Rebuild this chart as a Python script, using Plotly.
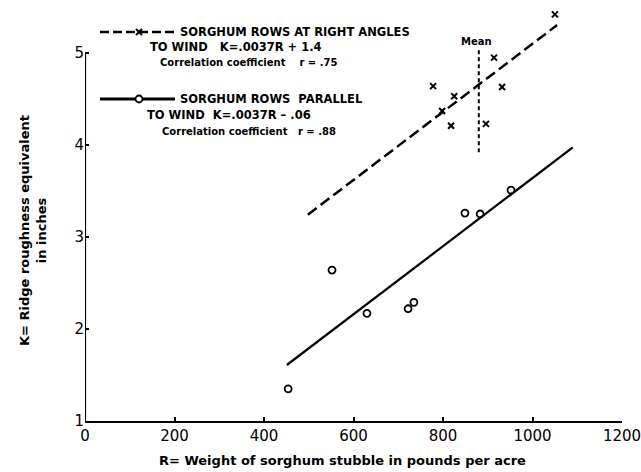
import plotly.graph_objects as go

# ---------------- data ----------------
# Sorghum rows at right angles to wind  (x markers)
R_right = [778, 798, 818, 825, 896, 914, 932, 1050]
K_right = [4.64, 4.37, 4.21, 4.53, 4.23, 4.95, 4.63, 5.42]

# Sorghum rows parallel to wind  (open circles)
R_par = [454, 552, 630, 722, 735, 849, 883, 952]
K_par = [1.35, 2.64, 2.17, 2.22, 2.29, 3.26, 3.25, 3.51]

# Regression lines  K = slope * R + intercept
slope = 0.0037
intercept_right = 1.4
intercept_par = -0.06
fit_right_R = [498, 1055]
fit_par_R = [451, 1090]

# Mean marker (vertical dotted line)
mean_R = [880, 880]
mean_K = [3.92, 5.03]

x_ticks = [0, 200, 400, 600, 800, 1000, 1200]
y_ticks = [1, 2, 3, 4, 5]
x_range = [0, 1200]
y_range = [1, 5.5]
y_axis_top = 5

legend_right = ["SORGHUM ROWS AT RIGHT ANGLES",
                "TO WIND\u00a0\u00a0\u00a0K=.0037R + 1.4",
                "Correlation coefficient\u00a0\u00a0\u00a0\u00a0r = .75"]
legend_par = ["SORGHUM ROWS\u00a0\u00a0PARALLEL",
              "TO WIND\u00a0\u00a0K=.0037R \u2013 .06",
              "Correlation coefficient\u00a0\u00a0\u00a0r = .88"]
x_title = "R= Weight of sorghum stubble in pounds per acre"
y_title = "K= Ridge roughness equivalent<br>in inches"

# ---------------- layout geometry ----------------
W, H = 641, 472
ML, MR, MT, MB = 85, 19, 7, 51
PW, PH = W - ML - MR, H - MT - MB


def px(x, y):
    """pixel -> paper coordinates"""
    return (x - ML) / PW, (H - MB - y) / PH


def px2data(x, y):
    xp, yp = px(x, y)
    return (x_range[0] + xp * (x_range[1] - x_range[0]),
            y_range[0] + yp * (y_range[1] - y_range[0]))


FONT = "DejaVu Sans"
ink = "black"

fig = go.Figure()

# regression lines
fig.add_trace(go.Scatter(
    x=fit_right_R, y=[slope * r + intercept_right for r in fit_right_R],
    mode="lines", line=dict(color=ink, width=2.5, dash="11px,5px"),
    showlegend=False, hoverinfo="skip"))
fig.add_trace(go.Scatter(
    x=fit_par_R, y=[slope * r + intercept_par for r in fit_par_R],
    mode="lines", line=dict(color=ink, width=2.2),
    showlegend=False, hoverinfo="skip"))

# mean line
fig.add_trace(go.Scatter(
    x=mean_R, y=mean_K, mode="lines",
    line=dict(color=ink, width=2, dash="4px,3px"),
    showlegend=False, hoverinfo="skip"))

# points
fig.add_trace(go.Scatter(
    x=R_right, y=K_right, mode="markers",
    marker=dict(symbol="x-thin", size=6, line=dict(color=ink, width=2)),
    showlegend=False, cliponaxis=False))
fig.add_trace(go.Scatter(
    x=R_par, y=K_par, mode="markers",
    marker=dict(symbol="circle-open", size=7, color=ink, line=dict(color=ink, width=1.8)),
    showlegend=False, cliponaxis=False))

# legend samples (drawn in data space from pixel positions)
lx0, _ = px2data(100, 0)
lx1, _ = px2data(175, 0)
lxm, _ = px2data(139, 0)
_, ly_right = px2data(0, 32)
_, ly_par = px2data(0, 99)
fig.add_trace(go.Scatter(
    x=[lx0, lx1], y=[ly_right, ly_right], mode="lines",
    line=dict(color=ink, width=2.5, dash="9px,4px"),
    showlegend=False, hoverinfo="skip", cliponaxis=False))
fig.add_trace(go.Scatter(
    x=[lxm], y=[ly_right], mode="markers",
    marker=dict(symbol="x-thin", size=6, line=dict(color=ink, width=2)),
    showlegend=False, hoverinfo="skip", cliponaxis=False))
fig.add_trace(go.Scatter(
    x=[lx0, lx1], y=[ly_par, ly_par], mode="lines",
    line=dict(color=ink, width=3),
    showlegend=False, hoverinfo="skip", cliponaxis=False))
fig.add_trace(go.Scatter(
    x=[lxm], y=[ly_par], mode="markers",
    marker=dict(symbol="circle", size=7, color="white", line=dict(color=ink, width=1.8)),
    showlegend=False, hoverinfo="skip", cliponaxis=False))

annotations = []


def text_at(txt, x, y, size=11, anchor="left", angle=0, weight="bold"):
    xp, yp = px(x, y)
    annotations.append(dict(
        text=txt, x=xp, y=yp, xref="paper", yref="paper",
        xanchor=anchor, yanchor="middle", showarrow=False, textangle=angle,
        font=dict(family=FONT, size=size, color=ink, weight=weight)))


text_at(legend_right[0], 178, 32, size=11.5)
text_at(legend_right[1], 148, 47, size=11.5)
text_at(legend_right[2], 158, 62, size=10)
text_at(legend_par[0], 178, 99, size=11.5)
text_at(legend_par[1], 145, 115, size=11.5)
text_at(legend_par[2], 160, 131, size=10)
text_at("Mean", 476, 41, size=10, anchor="center")
text_at(x_title, 342, 460, size=13, anchor="center")
text_at(y_title, 33, 231, size=13, anchor="center", angle=-90)

# y axis line only up to 5
shapes = [dict(type="line", xref="x", yref="y", x0=x_range[0], x1=x_range[0],
               y0=y_range[0], y1=y_axis_top, line=dict(color=ink, width=2.2))]

fig.update_layout(
    width=W, height=H,
    margin=dict(l=ML, r=MR, t=MT, b=MB, pad=0, autoexpand=False),
    paper_bgcolor="white", plot_bgcolor="white",
    annotations=annotations, shapes=shapes,
    font=dict(family=FONT, color=ink),
    xaxis=dict(range=x_range, tickvals=x_ticks, ticks="inside", ticklen=4,
               tickwidth=1.5, tickcolor=ink, showgrid=False, zeroline=False,
               showline=True, linecolor=ink, linewidth=2.2, automargin=False,
               ticklabeloverflow="allow",
               tickfont=dict(family=FONT, size=15, color=ink)),
    yaxis=dict(range=y_range, tickvals=y_ticks, ticks="inside", ticklen=4,
               tickwidth=1.5, tickcolor=ink, showgrid=False, zeroline=False,
               showline=False, automargin=False, ticklabeloverflow="allow",
               tickfont=dict(family=FONT, size=15, color=ink)),
)

fig.write_html("out.html",
               config={"displayModeBar": False},
               post_script="document.body.style.margin='0';"
                           "document.body.style.overflow='hidden';")
